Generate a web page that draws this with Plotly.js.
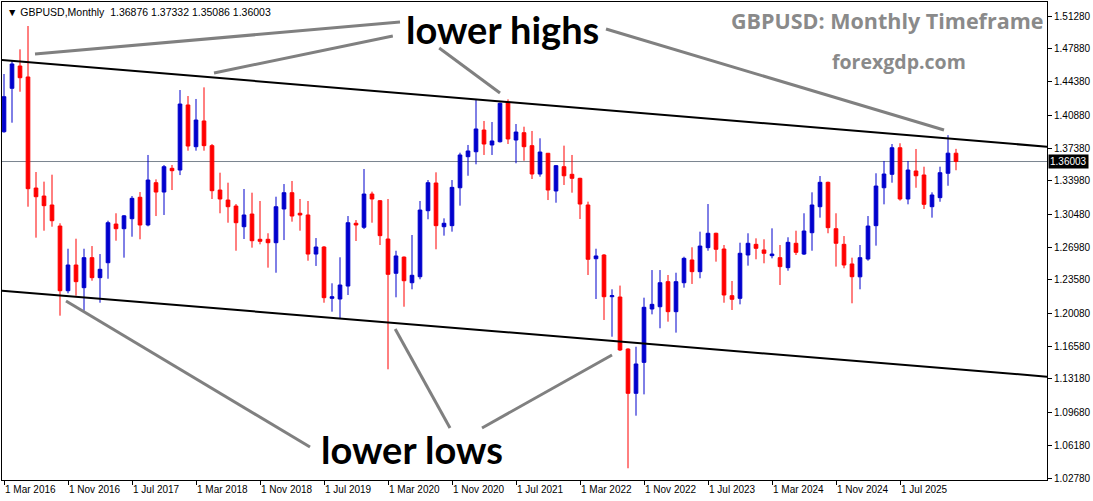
<!DOCTYPE html>
<html>
<head>
<meta charset="utf-8">
<script src="https://cdn.plot.ly/plotly-3.0.1.min.js"></script>
<style>html,body{margin:0;padding:0;background:#fff;}#chart{width:1093px;height:501px;}</style>
</head>
<body>
<div id="chart"></div>
<script>
// Monthly categories (Mar 2016 .. Feb 2026)
const months = [
"2016-03","2016-04","2016-05","2016-06","2016-07","2016-08","2016-09","2016-10","2016-11","2016-12",
"2017-01","2017-02","2017-03","2017-04","2017-05","2017-06","2017-07","2017-08","2017-09","2017-10","2017-11","2017-12",
"2018-01","2018-02","2018-03","2018-04","2018-05","2018-06","2018-07","2018-08","2018-09","2018-10","2018-11","2018-12",
"2019-01","2019-02","2019-03","2019-04","2019-05","2019-06","2019-07","2019-08","2019-09","2019-10","2019-11","2019-12",
"2020-01","2020-02","2020-03","2020-04","2020-05","2020-06","2020-07","2020-08","2020-09","2020-10","2020-11","2020-12",
"2021-01","2021-02","2021-03","2021-04","2021-05","2021-06","2021-07","2021-08","2021-09","2021-10","2021-11","2021-12",
"2022-01","2022-02","2022-03","2022-04","2022-05","2022-06","2022-07","2022-08","2022-09","2022-10","2022-11","2022-12",
"2023-01","2023-02","2023-03","2023-04","2023-05","2023-06","2023-07","2023-08","2023-09","2023-10","2023-11","2023-12",
"2024-01","2024-02","2024-03","2024-04","2024-05","2024-06","2024-07","2024-08","2024-09","2024-10","2024-11","2024-12",
"2025-01","2025-02","2025-03","2025-04","2025-05","2025-06","2025-07","2025-08","2025-09","2025-10","2025-11","2025-12",
"2026-01","2026-02"];

const openP = [
1.3913,1.4369,1.4603,1.4488,1.3322,1.3238,1.3144,1.2923,1.2244,1.2514,
1.2276,1.2591,1.2381,1.2538,1.2944,1.2895,1.3000,1.3225,1.2934,1.3378,1.3280,1.3529,
1.3511,1.4194,1.3756,1.4026,1.3767,1.3301,1.3196,1.3133,1.2916,1.3049,1.2784,1.2784,
1.2748,1.3102,1.3273,1.3057,1.3039,1.2629,1.2703,1.2164,1.2157,1.2293,1.2952,1.2910,
1.3259,1.3189,1.2787,1.2427,1.2597,1.2328,1.2391,1.3084,1.3375,1.2916,1.2927,1.3325,
1.3651,1.3703,1.3931,1.3774,1.3808,1.4219,1.3826,1.3903,1.3767,1.3469,1.3687,1.3291,
1.3546,1.3466,1.3424,1.3144,1.2580,1.2619,1.2181,1.2178,1.1632,1.1167,1.1492,1.2052,
1.2076,1.2339,1.2024,1.2328,1.2567,1.2444,1.2696,1.2847,1.2682,1.2192,1.2164,1.2619,
1.2731,1.2672,1.2612,1.2591,1.2486,1.2742,1.2629,1.2853,1.3126,1.3382,1.2895,1.2731,
1.2525,1.2390,1.2577,1.2927,1.3325,1.3466,1.3745,1.3207,1.3501,1.3459,1.3126,1.3221,
1.3477,1.36876];

const highP = [
1.4519,1.4656,1.4778,1.5023,1.3490,1.3389,1.3462,1.2952,1.2685,1.2790,
1.2685,1.2713,1.2629,1.2979,1.3057,1.3039,1.3238,1.3280,1.3669,1.3413,1.3564,1.3564,
1.4351,1.4288,1.4257,1.4379,1.3784,1.3483,1.3378,1.3154,1.3312,1.3273,1.3186,1.2847,
1.3231,1.3364,1.3396,1.3207,1.3186,1.2797,1.2713,1.2322,1.2595,1.3028,1.2986,1.3522,
1.3284,1.3196,1.3207,1.2664,1.2604,1.2829,1.3186,1.3406,1.3487,1.3004,1.3406,1.3693,
1.3774,1.4253,1.4026,1.4015,1.4219,1.4253,1.3994,1.3966,1.3921,1.3844,1.3690,1.3564,
1.3767,1.3669,1.3430,1.3179,1.2685,1.2629,1.2259,1.2298,1.1640,1.1656,1.2171,1.2461,
1.2461,1.2409,1.2433,1.2601,1.2700,1.2864,1.3154,1.2853,1.2724,1.2346,1.2748,1.2847,
1.2794,1.2784,1.2899,1.2724,1.2805,1.2874,1.3057,1.3277,1.3448,1.3389,1.3057,1.2818,
1.2591,1.2724,1.3028,1.3477,1.3606,1.3784,1.3792,1.3606,1.3732,1.3546,1.3277,1.3546,
1.3877,1.37332];

const lowP = [
1.3903,1.4008,1.4333,1.3126,1.2801,1.2874,1.2916,1.1982,1.2217,1.2192,
1.2034,1.2349,1.2118,1.2370,1.2769,1.2591,1.2811,1.2784,1.2920,1.3028,1.3039,1.3301,
1.3458,1.3714,1.3714,1.3714,1.3207,1.3057,1.2958,1.2664,1.2787,1.2696,1.2731,1.2486,
1.2433,1.2776,1.2969,1.2874,1.2559,1.2504,1.2118,1.2024,1.1955,1.2199,1.2766,1.2892,
1.2958,1.2724,1.1419,1.2175,1.2076,1.2259,1.2364,1.2994,1.2679,1.2822,1.2864,1.3137,
1.3451,1.3571,1.3669,1.3669,1.3800,1.3784,1.3582,1.3609,1.3417,1.3441,1.3196,1.3168,
1.3354,1.3273,1.2997,1.2409,1.2157,1.1937,1.1761,1.1611,1.0380,1.0932,1.1156,1.1996,
1.1850,1.1919,1.1804,1.2276,1.2315,1.2375,1.2664,1.2549,1.2118,1.2042,1.2101,1.2507,
1.2574,1.2532,1.2584,1.2304,1.2454,1.2619,1.2619,1.2664,1.3011,1.2847,1.2497,1.2480,
1.2112,1.2259,1.2559,1.2717,1.3151,1.3378,1.3190,1.3151,1.3325,1.3102,1.3011,1.3178,
1.3346,1.35086];

const closeP = [
1.4281,1.4624,1.4480,1.3315,1.3231,1.3137,1.2979,1.2244,1.2514,1.2339,
1.2591,1.2381,1.2469,1.2958,1.2895,1.3030,1.3214,1.2934,1.3406,1.3280,1.3546,1.3504,
1.4204,1.3763,1.4036,1.3767,1.3294,1.3207,1.3126,1.2958,1.3039,1.2769,1.2763,1.2748,
1.3126,1.3273,1.3028,1.3039,1.2629,1.2703,1.2171,1.2181,1.2304,1.2958,1.2934,1.3259,
1.3207,1.2822,1.2416,1.2609,1.2349,1.2406,1.3091,1.3378,1.2927,1.2952,1.3329,1.3669,
1.3711,1.3942,1.3784,1.3816,1.4212,1.3837,1.3910,1.3756,1.3469,1.3700,1.3301,1.3557,
1.3451,1.3424,1.3154,1.2574,1.2609,1.2181,1.2192,1.1622,1.1167,1.1475,1.2070,1.2101,
1.2328,1.2024,1.2339,1.2584,1.2444,1.2713,1.2847,1.2679,1.2199,1.2154,1.2637,1.2742,
1.2689,1.2637,1.2629,1.2497,1.2752,1.2647,1.2871,1.3144,1.3382,1.2906,1.2742,1.2514,
1.2391,1.2591,1.2923,1.3343,1.3469,1.3745,1.3207,1.3511,1.3451,1.3151,1.3249,1.3483,
1.3688,1.36003];

// Axis ticks
const xTickVals = ["2016-03","2016-11","2017-07","2018-03","2018-11","2019-07","2020-03","2020-11","2021-07","2022-03","2022-11","2023-07","2024-03","2024-11","2025-07"];
const xTickText = ["1 Mar 2016","1 Nov 2016","1 Jul 2017","1 Mar 2018","1 Nov 2018","1 Jul 2019","1 Mar 2020","1 Nov 2020","1 Jul 2021","1 Mar 2022","1 Nov 2022","1 Jul 2023","1 Mar 2024","1 Nov 2024","1 Jul 2025"];
const yTickVals = [1.02780,1.06180,1.09680,1.13180,1.16580,1.20080,1.23580,1.26980,1.30480,1.33980,1.37380,1.40880,1.44380,1.47880,1.51280];

// Channel lines: price at left edge and right edge of the view
const upperChannel = [1.4666, 1.3756];
const lowerChannel = [1.2244, 1.1342];
// Pointer lines [monthIndex0, price0, monthIndex1, price1]
const highPointers = [[3.875,1.4729,49.5,1.5065],[26.25,1.4530,48.6,1.4918],[54.4,1.4792,62.0,1.4320],[75.25,1.4992,117.5,1.3931]];
const lowPointers = [[7.75,1.2136,38.25,1.0604],[48.9,1.1842,55.75,1.0803],[59.75,1.0803,76.0,1.1569]];

const xRange = [-0.25, 130.375];
const yRange = [1.0257, 1.5275];
const last = months.length - 1;
const currentPrice = closeP[last];

const trace = {
  type: 'candlestick',
  x: months, open: openP, high: highP, low: lowP, close: closeP,
  increasing: {line: {color: '#0000CD', width: 1}, fillcolor: '#0000CD'},
  decreasing: {line: {color: '#FF0000', width: 1}, fillcolor: '#FF0000'},
  whiskerwidth: 0,
  hoverinfo: 'skip',
  showlegend: false
};

const shapes = [];
shapes.push({type:'line', xref:'x', yref:'y', x0:xRange[0], x1:xRange[1], y0:upperChannel[0], y1:upperChannel[1], line:{color:'#000', width:2}, layer:'above'});
shapes.push({type:'line', xref:'x', yref:'y', x0:xRange[0], x1:xRange[1], y0:lowerChannel[0], y1:lowerChannel[1], line:{color:'#000', width:2}, layer:'above'});
shapes.push({type:'line', xref:'paper', yref:'y', x0:0, x1:1, y0:currentPrice, y1:currentPrice, line:{color:'#7a8590', width:1}, layer:'below'});
highPointers.concat(lowPointers).forEach(p => {
  shapes.push({type:'line', xref:'x', yref:'y', x0:p[0], y0:p[1], x1:p[2], y1:p[3], line:{color:'#808080', width:3}, layer:'above'});
});

const fmt = v => v.toFixed(5);
const header = '\u25BC GBPUSD,Monthly  ' + [openP[last], highP[last], lowP[last], closeP[last]].map(fmt).join(' ');

const annotations = [
  {xref:'paper', yref:'paper', x:0, y:1, xanchor:'left', yanchor:'top', xshift:3, yshift:-2, showarrow:false,
   text:header, font:{family:'Liberation Sans, Arial, sans-serif', size:10.5, color:'#000'}},
  {xref:'paper', yref:'paper', x:0.4785, y:0.939, xanchor:'center', yanchor:'middle', yshift:2, showarrow:false,
   text:'lower highs', font:{family:'Lato, sans-serif', size:38, weight:'bold', color:'#000'}},
  {xref:'paper', yref:'paper', x:0.3923, y:0.0628, xanchor:'center', yanchor:'middle', yshift:1, showarrow:false,
   text:'lower lows', font:{family:'Lato, sans-serif', size:38, weight:'bold', color:'#000'}},
  {xref:'paper', yref:'paper', x:0.8469, y:0.9603, xanchor:'center', yanchor:'middle', showarrow:false,
   text:'GBPUSD: Monthly Timeframe', font:{family:'Open Sans, sans-serif', size:21.5, weight:'bold', color:'#8a8a8a'}},
  {xref:'paper', yref:'paper', x:0.8584, y:0.8745, xanchor:'center', yanchor:'middle', showarrow:false,
   text:'forexgdp.com', font:{family:'Open Sans, sans-serif', size:19.5, weight:'bold', color:'#8a8a8a'}},
  {xref:'paper', yref:'y', x:1, y:currentPrice, xanchor:'left', yanchor:'middle', xshift:1, showarrow:false,
   text:fmt(currentPrice), bgcolor:'#000', borderpad:1, font:{family:'Liberation Sans, Arial, sans-serif', size:10, color:'#fff'}}
];

const layout = {
  width: 1093, height: 501,
  margin: {l:2, r:46, t:2, b:21, pad:0},
  paper_bgcolor:'#fff', plot_bgcolor:'#fff',
  showlegend:false,
  boxgap: 0.35, boxgroupgap: 0.3,
  xaxis: {
    type:'category', categoryorder:'array', categoryarray: months,
    range: xRange, rangeslider:{visible:false},
    tickmode:'array', tickvals:xTickVals, ticktext:xTickText,
    ticks:'outside', ticklen:4, tickcolor:'#000', ticklabelposition:'outside right',
    showline:true, mirror:true, linecolor:'#000', linewidth:1,
    showgrid:false, zeroline:false, fixedrange:true,
    tickfont:{family:'Liberation Sans, Arial, sans-serif', size:10, color:'#000'}
  },
  yaxis: {
    side:'right', range:yRange,
    tickmode:'array', tickvals:yTickVals, tickformat:'.5f',
    ticks:'outside', ticklen:4, tickcolor:'#000',
    showline:true, mirror:true, linecolor:'#000', linewidth:1,
    showgrid:false, zeroline:false, fixedrange:true,
    tickfont:{family:'Liberation Sans, Arial, sans-serif', size:10, color:'#000'}
  },
  shapes: shapes,
  annotations: annotations
};

Plotly.newPlot('chart', [trace], layout, {displayModeBar:false, staticPlot:true});
</script>
</body>
</html>
